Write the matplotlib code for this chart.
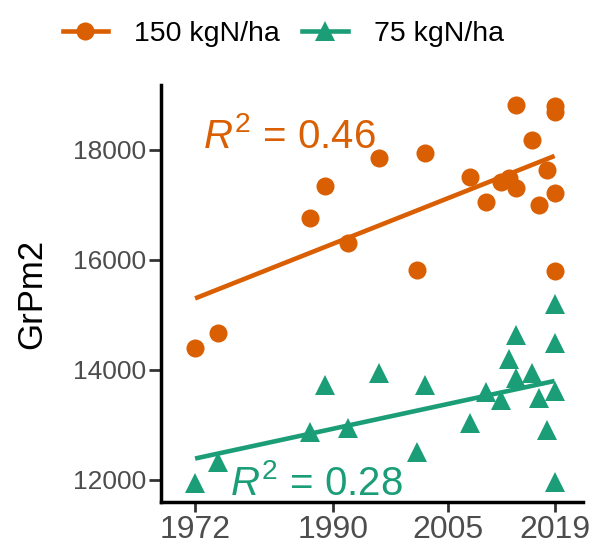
import numpy as np
import matplotlib
matplotlib.use("Agg")
import matplotlib.pyplot as plt
from matplotlib.lines import Line2D

plt.rcParams['font.family'] = ['Liberation Sans', 'DejaVu Sans']
plt.rcParams['mathtext.fontset'] = 'custom'
plt.rcParams['mathtext.rm'] = 'Liberation Sans'
plt.rcParams['mathtext.it'] = 'Liberation Sans:italic'

ORANGE = "#D95F02"
GREEN = "#1B9E77"

# --- data ---
years_150 = [1972, 1975, 1987, 1989, 1992, 1996, 2001, 2002, 2008, 2010,
             2012, 2013, 2014, 2014, 2016, 2017, 2018, 2019, 2019, 2019, 2019]
grpm2_150 = [14390, 14680, 16760, 17350, 16300, 17850, 15820, 17940, 17515, 17060,
             17420, 17485, 18820, 17300, 18180, 17000, 17640, 18800, 18690, 17210, 15790]

years_75 = [1972, 1975, 1987, 1989, 1992, 1996, 2001, 2002, 2008, 2010,
            2012, 2013, 2014, 2014, 2016, 2017, 2018, 2019, 2019, 2019, 2019]
grpm2_75 = [11950, 12320, 12880, 13730, 12940, 13940, 12515, 13727, 13030, 13600,
            13450, 14200, 14640, 13850, 13950, 13490, 12910, 15200, 14490, 13620, 11970]

# fitted lines as drawn in the reference (endpoints)
fit_years = [1972, 2019]
fit_150 = [15300, 17890]
fit_75 = [12390, 13800]

r2_150 = 0.46
r2_75 = 0.28

xticks = [1972, 1990, 2005, 2019]
yticks = [12000, 14000, 16000, 18000]

fig = plt.figure(figsize=(5.96, 5.5), dpi=100)
ax = fig.add_axes([0.2696, 0.0873, 0.7084, 0.7582])

ax.plot(fit_years, fit_150, color=ORANGE, lw=3.3, solid_capstyle='butt', zorder=3)
ax.plot(fit_years, fit_75, color=GREEN, lw=3.3, solid_capstyle='butt', zorder=3)
ax.plot(years_150, grpm2_150, 'o', color=ORANGE, ms=13, mew=0, zorder=4)
ax.plot(years_75, grpm2_75, '^', color=GREEN, ms=15, mew=0, zorder=4)

ax.text(1973.0, 18036, r'$\mathit{R}^2$ = %.2f' % r2_150, color=ORANGE,
        fontsize=29, ha='left', va='baseline', zorder=5)
ax.text(1976.6, 11727, r'$\mathit{R}^2$ = %.2f' % r2_75, color=GREEN,
        fontsize=29, ha='left', va='baseline', zorder=5)

ax.set_xlim(1967.5, 2022.7)
ax.set_ylim(11600, 19180)
ax.set_xticks(xticks)
ax.set_yticks(yticks)
ax.set_ylabel("GrPm2", fontsize=25, color='black', labelpad=18)

for side in ['top', 'right']:
    ax.spines[side].set_visible(False)
for side in ['left', 'bottom']:
    ax.spines[side].set_linewidth(2.5)
    ax.spines[side].set_color('black')
ax.tick_params(axis='both', width=2, color='#333333', labelcolor='#4D4D4D')
ax.tick_params(axis='x', length=7, labelsize=23, pad=2.5)
ax.tick_params(axis='y', length=9, labelsize=19, pad=1.5)

handles = [
    Line2D([], [], color=ORANGE, lw=3.3, marker='o', ms=13, mew=0),
    Line2D([], [], color=GREEN, lw=3.3, marker='^', ms=15, mew=0),
]
fig.legend(handles, ["150 kgN/ha", "75 kgN/ha"], loc='center',
           bbox_to_anchor=(0.475, 0.938), ncol=2, frameon=False,
           fontsize=20.5, handlelength=1.6, columnspacing=0.8, handletextpad=0.9)

fig.savefig("out.png", dpi=100)
